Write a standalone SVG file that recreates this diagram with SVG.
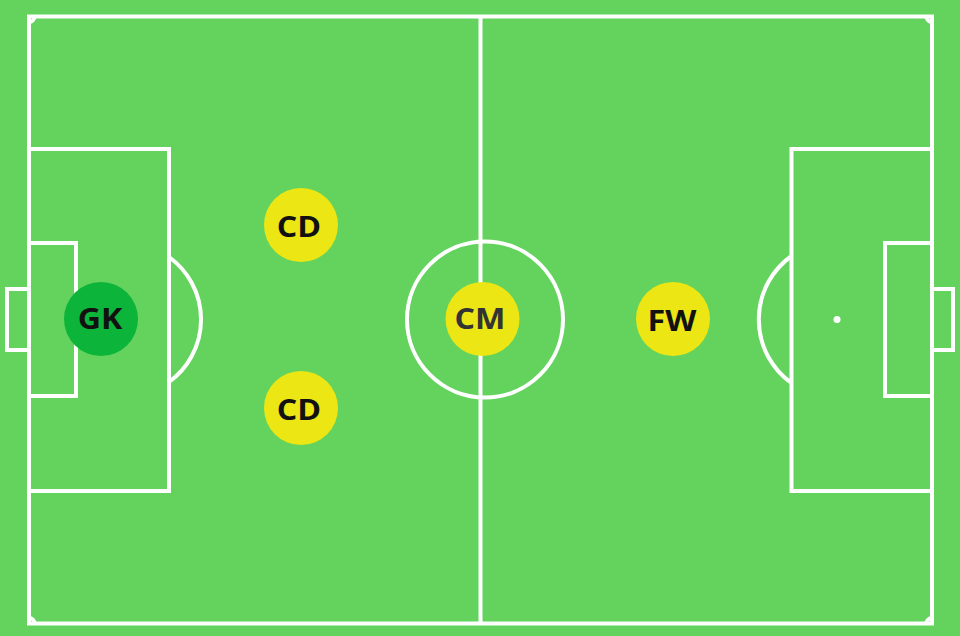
<svg xmlns="http://www.w3.org/2000/svg" width="960" height="636" viewBox="0 0 960 636">
  <style>
    .ln { fill: none; stroke: #ffffff; stroke-width: 4; }
    .yl { fill: #ebe614; }
    .gk { fill: #0cb43a; }
    .lbl { font-family: "Open Sans", "Noto Sans", "Liberation Sans", sans-serif; font-weight: 700; font-size: 28px; text-anchor: middle; fill: #111111; }
  </style>
  <rect x="0" y="0" width="960" height="636" fill="#63d35e"/>
  <g id="pitch">
    <rect class="ln" x="29" y="16.5" width="903" height="607"/>
    <line class="ln" x1="480.5" y1="16.5" x2="480.5" y2="623.5"/>
    <circle class="ln" cx="485" cy="319.5" r="78"/>
    <path class="ln" d="M29,149 H169 V491 H29"/>
    <path class="ln" d="M29,243 H76 V396 H29"/>
    <path class="ln" d="M29,289 H7 V350 H29"/>
    <path class="ln" d="M169,257 A77,77 0 0 1 169,382"/>
    <path class="ln" d="M932,149 H791.5 V491 H932"/>
    <path class="ln" d="M932,243 H885 V396 H932"/>
    <path class="ln" d="M932,289 H953 V350 H932"/>
    <path class="ln" d="M791.5,256 A78,78 0 0 0 791.5,383"/>
    <circle cx="837" cy="319.5" r="3.5" fill="#ffffff"/>
    <path class="ln" d="M29,22 A5.5,5.5 0 0 0 34.5,16.5"/>
    <path class="ln" d="M926.5,16.5 A5.5,5.5 0 0 0 932,22"/>
    <path class="ln" d="M29,618 A5.5,5.5 0 0 1 34.5,623.5"/>
    <path class="ln" d="M926.5,623.5 A5.5,5.5 0 0 1 932,618"/>
  </g>
  <g id="connectors"></g>
  <g id="GK">
    <circle class="gk" cx="101" cy="319" r="37"/>
    <text class="lbl" transform="translate(100,329) scale(1.15,1)">GK</text>
  </g>
  <g id="CD1">
    <circle class="yl" cx="301" cy="225" r="37"/>
    <text class="lbl" transform="translate(299,237) scale(1.15,1)">CD</text>
  </g>
  <g id="CD2">
    <circle class="yl" cx="301" cy="408" r="37"/>
    <text class="lbl" transform="translate(299,420) scale(1.15,1)">CD</text>
  </g>
  <g id="CM">
    <circle class="yl" cx="482.5" cy="319" r="37"/>
    <text class="lbl" transform="translate(480,329) scale(1.15,1)" style="fill:#333333">CM</text>
  </g>
  <g id="FW">
    <circle class="yl" cx="673" cy="319" r="37"/>
    <text class="lbl" transform="translate(672,331) scale(1.15,1)">FW</text>
  </g>
</svg>
